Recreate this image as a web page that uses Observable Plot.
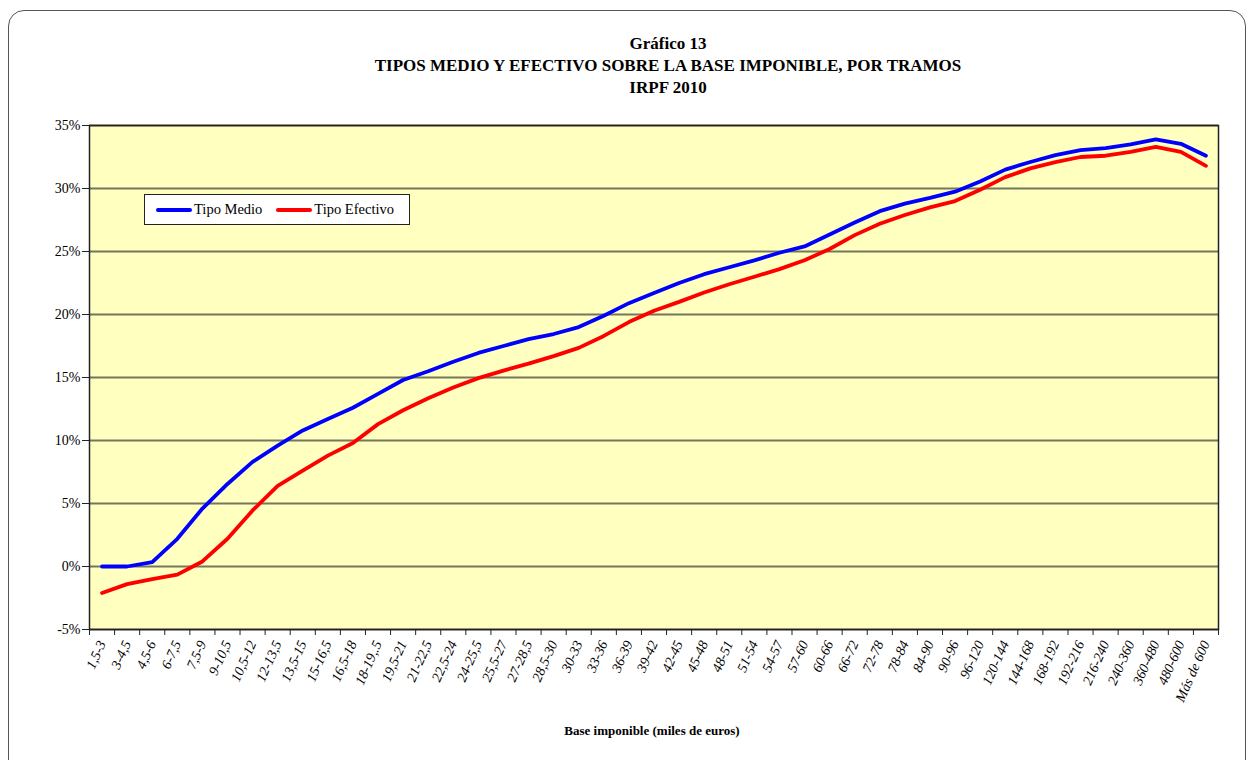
<!DOCTYPE html>
<html>
<head>
<meta charset="utf-8">
<script src="https://cdn.jsdelivr.net/npm/d3@7"></script>
<script src="https://cdn.jsdelivr.net/npm/@observablehq/plot@0.6"></script>
<style>
  html, body { margin: 0; padding: 0; background: #fff; }
  #wrap { position: relative; width: 1250px; height: 760px; overflow: hidden; font-family: "Liberation Serif", "DejaVu Serif", serif; }
  #border { position: absolute; left: 8px; top: 10px; width: 1238px; height: 770px; border: 1px solid #555; border-radius: 16px; box-sizing: border-box; }
  #title { position: absolute; left: 668px; top: 33px; transform: translateX(-50%); text-align: center; font-weight: bold; font-size: 17px; line-height: 22px; white-space: nowrap; color: #000; }
  #chart { position: absolute; left: 0; top: 100px; }
  #legend { position: absolute; left: 144px; top: 194px; width: 266px; height: 31px; box-sizing: border-box; border: 1px solid #222; background: #fff; font-size: 14.5px; display: flex; align-items: center; padding-left: 11px; white-space: nowrap; }
  .sw { display: inline-block; flex: none; width: 36px; height: 4px; border-radius: 2px; margin-right: 2px; }
  .item { display: flex; flex: none; align-items: center; margin-right: 14px; white-space: nowrap; }
  #xtitle { position: absolute; left: 652px; top: 723px; transform: translateX(-50%); font-weight: bold; font-size: 13px; white-space: nowrap; }
</style>
</head>
<body>
<div id="wrap">
  <div id="border"></div>
  <div id="title">Gráfico 13<br>TIPOS MEDIO Y EFECTIVO SOBRE LA BASE IMPONIBLE, POR TRAMOS<br>IRPF 2010</div>
  <div id="chart"></div>
  <div id="legend"></div>
  <div id="xtitle">Base imponible (miles de euros)</div>
</div>
<script>
const categories = ["1,5-3","3-4,5","4,5-6","6-7,5","7,5-9","9-10,5","10,5-12","12-13,5","13,5-15","15-16,5","16,5-18","18-19,.5","19,5-21","21-22,5","22,5-24","24-25,5","25,5-27","27-28,5","28,5-30","30-33","33-36","36-39","39-42","42-45","45-48","48-51","51-54","54-57","57-60","60-66","66-72","72-78","78-84","84-90","90-96","96-120","120-144","144-168","168-192","192-216","216-240","240-360","360-480","480-600","Más de 600"];

const tipoMedio = [0.0, 0.0, 0.35, 2.2, 4.6, 6.55, 8.3, 9.6, 10.8, 11.7, 12.6, 13.7, 14.8, 15.5, 16.25, 16.95, 17.5, 18.05, 18.45, 19.0, 19.9, 20.9, 21.7, 22.5, 23.2, 23.75, 24.3, 24.9, 25.4, 26.35, 27.3, 28.2, 28.8, 29.25, 29.75, 30.55, 31.5, 32.1, 32.65, 33.05, 33.2, 33.5, 33.9, 33.55, 32.6];

const tipoEfectivo = [-2.1, -1.4, -1.0, -0.65, 0.4, 2.2, 4.45, 6.4, 7.6, 8.8, 9.8, 11.3, 12.4, 13.35, 14.2, 14.95, 15.55, 16.1, 16.7, 17.35, 18.3, 19.4, 20.3, 21.0, 21.75, 22.4, 23.0, 23.6, 24.3, 25.2, 26.3, 27.2, 27.9, 28.5, 29.0, 29.9, 30.9, 31.6, 32.1, 32.5, 32.6, 32.9, 33.3, 32.9, 31.8];

const seriesNames = ["Tipo Medio", "Tipo Efectivo"];
const seriesColors = ["#0000FF", "#FF0000"];
const yTicks = [-5, 0, 5, 10, 15, 20, 25, 30, 35];

const idx = categories.map((_, i) => i);
const bounds = d3.range(categories.length + 1).map(i => i - 0.5);
const medio = idx.map(i => ({i, v: tipoMedio[i]}));
const efectivo = idx.map(i => ({i, v: tipoEfectivo[i]}));
const serif = "Liberation Serif, DejaVu Serif, serif";

const chart = Plot.plot({
  width: 1250,
  height: 650,
  marginLeft: 89,
  marginRight: 32,
  marginTop: 25,
  marginBottom: 121,
  x: {type: "linear", domain: [-0.5, categories.length - 0.5]},
  y: {domain: [-5, 35]},
  style: {fontFamily: serif, fontSize: "14px", color: "#000", background: "transparent", overflow: "visible"},
  marks: [
    Plot.frame({fill: "#FFFFC0", stroke: null}),
    Plot.ruleY(yTicks, {stroke: "#76765e", strokeWidth: 2}),
    Plot.line(medio, {x: "i", y: "v", stroke: seriesColors[0], strokeWidth: 3.8, strokeLinejoin: "round", strokeLinecap: "round"}),
    Plot.line(efectivo, {x: "i", y: "v", stroke: seriesColors[1], strokeWidth: 3.8, strokeLinejoin: "round", strokeLinecap: "round"}),
    Plot.frame({stroke: "#222", strokeWidth: 1.5}),
    Plot.axisY({ticks: yTicks, tickFormat: d => d + "%", tickSize: 7, tickPadding: 2, label: null, stroke: "#222", fontSize: 14, fontFamily: serif}),
    Plot.axisX(bounds, {tickSize: 6, tickFormat: () => "", label: null, stroke: "#222"}),
    Plot.axisX(idx, {tickSize: 0, tickRotate: -66, tickPadding: 12, tickFormat: i => categories[i], fontStyle: "italic", fontSize: 14, fontFamily: serif, label: null})
  ]
});
document.getElementById("chart").appendChild(chart);

const legend = document.getElementById("legend");
seriesNames.forEach((name, k) => {
  const item = document.createElement("span");
  item.className = "item";
  const sw = document.createElement("span");
  sw.className = "sw";
  sw.style.background = seriesColors[k];
  item.appendChild(sw);
  item.appendChild(document.createTextNode(name));
  legend.appendChild(item);
});
</script>
</body>
</html>
